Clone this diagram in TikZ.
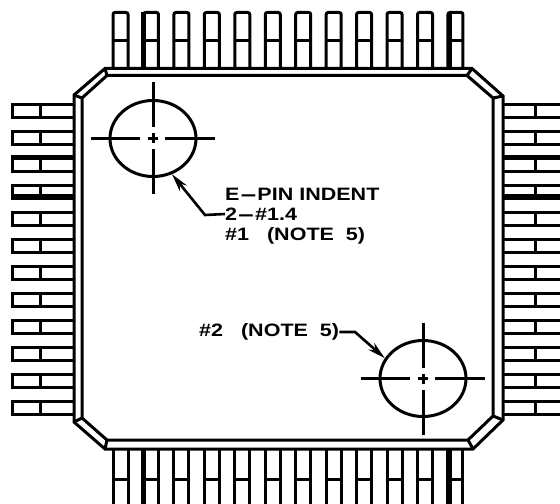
\documentclass[tikz,border=0pt]{standalone}
\usepackage{fontspec}
\setmainfont{Liberation Sans}
\usetikzlibrary{arrows.meta,shapes.geometric}
\tikzset{
  cad/.style={line width=3bp,black,line join=miter},
  hole/.style={draw,black,line width=3bp,ellipse,inner sep=0pt,minimum width=86bp,minimum height=76bp},
  cross/.style={line width=3bp,black},
  leader/.style={line width=2.6bp,black,{Stealth[length=18bp,width=9bp]}-},
  lab/.style={font=\bfseries\fontsize{18}{18}\selectfont,anchor=west,inner sep=0pt,black}
}
\newcommand{\wide}[1]{\scalebox{1.2}[1]{#1}}
\newcommand{\longdash}{\scalebox{2.5}[1]{-}}
\begin{document}
\begin{tikzpicture}[x=1bp,y=-1bp]
\useasboundingbox[fill=white] (0,0) rectangle (560,504);
\begin{scope}
\clip (0,0) rectangle (560,504);
% top and bottom pins
\foreach \i in {0,...,11} {
  \pgfmathsetmacro{\xa}{113+30.45*\i}
  \pgfmathsetmacro{\xb}{\xa+15}
  \draw[cad,rounded corners=2bp] (\xa,68) -- (\xa,12.5) -- (\xb,12.5) -- (\xb,68);
  \draw[cad] (\xa,41) -- (\xb,41);
  \draw[cad] (\xa,449) -- (\xa,506);
  \draw[cad] (\xb,449) -- (\xb,506);
  \draw[cad] (\xa,479) -- (\xb,479);
}
% left and right pins
\foreach \i in {0,...,11} {
  \pgfmathsetmacro{\ya}{104.5+27*\i}
  \pgfmathsetmacro{\yb}{\ya+13}
  \draw[cad] (74,\ya) -- (12,\ya) -- (12,\yb) -- (74,\yb);
  \draw[cad] (40,\ya) -- (40,\yb);
  \draw[cad] (503,\ya) -- (562,\ya);
  \draw[cad] (503,\yb) -- (562,\yb);
  \draw[cad] (535,\ya) -- (535,\yb);
}
% emphasised strokes
\draw[line width=5bp] (143.5,12) -- (143.5,68);
\draw[line width=5bp] (449,12) -- (449,68);
\draw[line width=5bp] (143.5,449) -- (143.5,504);
\draw[line width=5bp] (449,449) -- (449,504);
\draw[line width=5bp] (11,157.5) -- (74,157.5);
\draw[line width=5bp] (11,197) -- (74,197);
\draw[line width=5bp] (503,157.5) -- (560,157.5);
\draw[line width=5bp] (503,197) -- (560,197);
\end{scope}
% package body
\draw[cad] (105,68.5) -- (472,68.5) -- (503,96) -- (503,420) -- (473,449) -- (105,449) -- (74,422) -- (74,95) -- cycle;
\draw[cad] (107,75.5) -- (467,75.5) -- (493,98) -- (493,416) -- (468,440) -- (107,440) -- (82,418) -- (82,98) -- cycle;
\draw[cad] (105,68.5) -- (107,75.5);
\draw[cad] (472,68.5) -- (467,75.5);
\draw[cad] (503,96) -- (493,98);
\draw[cad] (503,420) -- (493,416);
\draw[cad] (473,449) -- (468,440);
\draw[cad] (105,449) -- (107,440);
\draw[cad] (74,422) -- (82,418);
\draw[cad] (74,95) -- (82,98);
% holes
\node[hole] (holeA) at (153,138.5) {};
\node[hole] (holeB) at (423,378.5) {};
\foreach \h/\cx/\cy in {A/153/138.5,B/423/378.5} {
  \begin{scope}[shift={(\cx,\cy)}]
    \draw[cross] (-62,0) -- (-13,0) (12,0) -- (62,0);
    \draw[cross] (0,-56) -- (0,-11) (0,11) -- (0,56);
    \draw[cross] (-5,0) -- (5,0) (0,-5) -- (0,5);
  \end{scope}
}
% labels
\node[lab] (labA) at (225,194) {\wide{E\longdash PIN\ INDENT}};
\node[lab] (labB) at (225,214) {\wide{2\longdash\#1.4}};
\node[lab] (labC) at (225,236) {\wide{\#1\ \ \ (NOTE\ \ 5)}};
\node[lab] (labD) at (199,332) {\wide{\#2\ \ \ (NOTE\ \ 5)}};
% leaders
\coordinate (bendA) at (205,215);
\coordinate (bendB) at (355,332);
\draw[leader] (holeA.-62) -- (bendA) -- (labB.west);
\draw[leader] (holeB.152) -- (bendB) -- (labD.east);
\end{tikzpicture}
\end{document}
